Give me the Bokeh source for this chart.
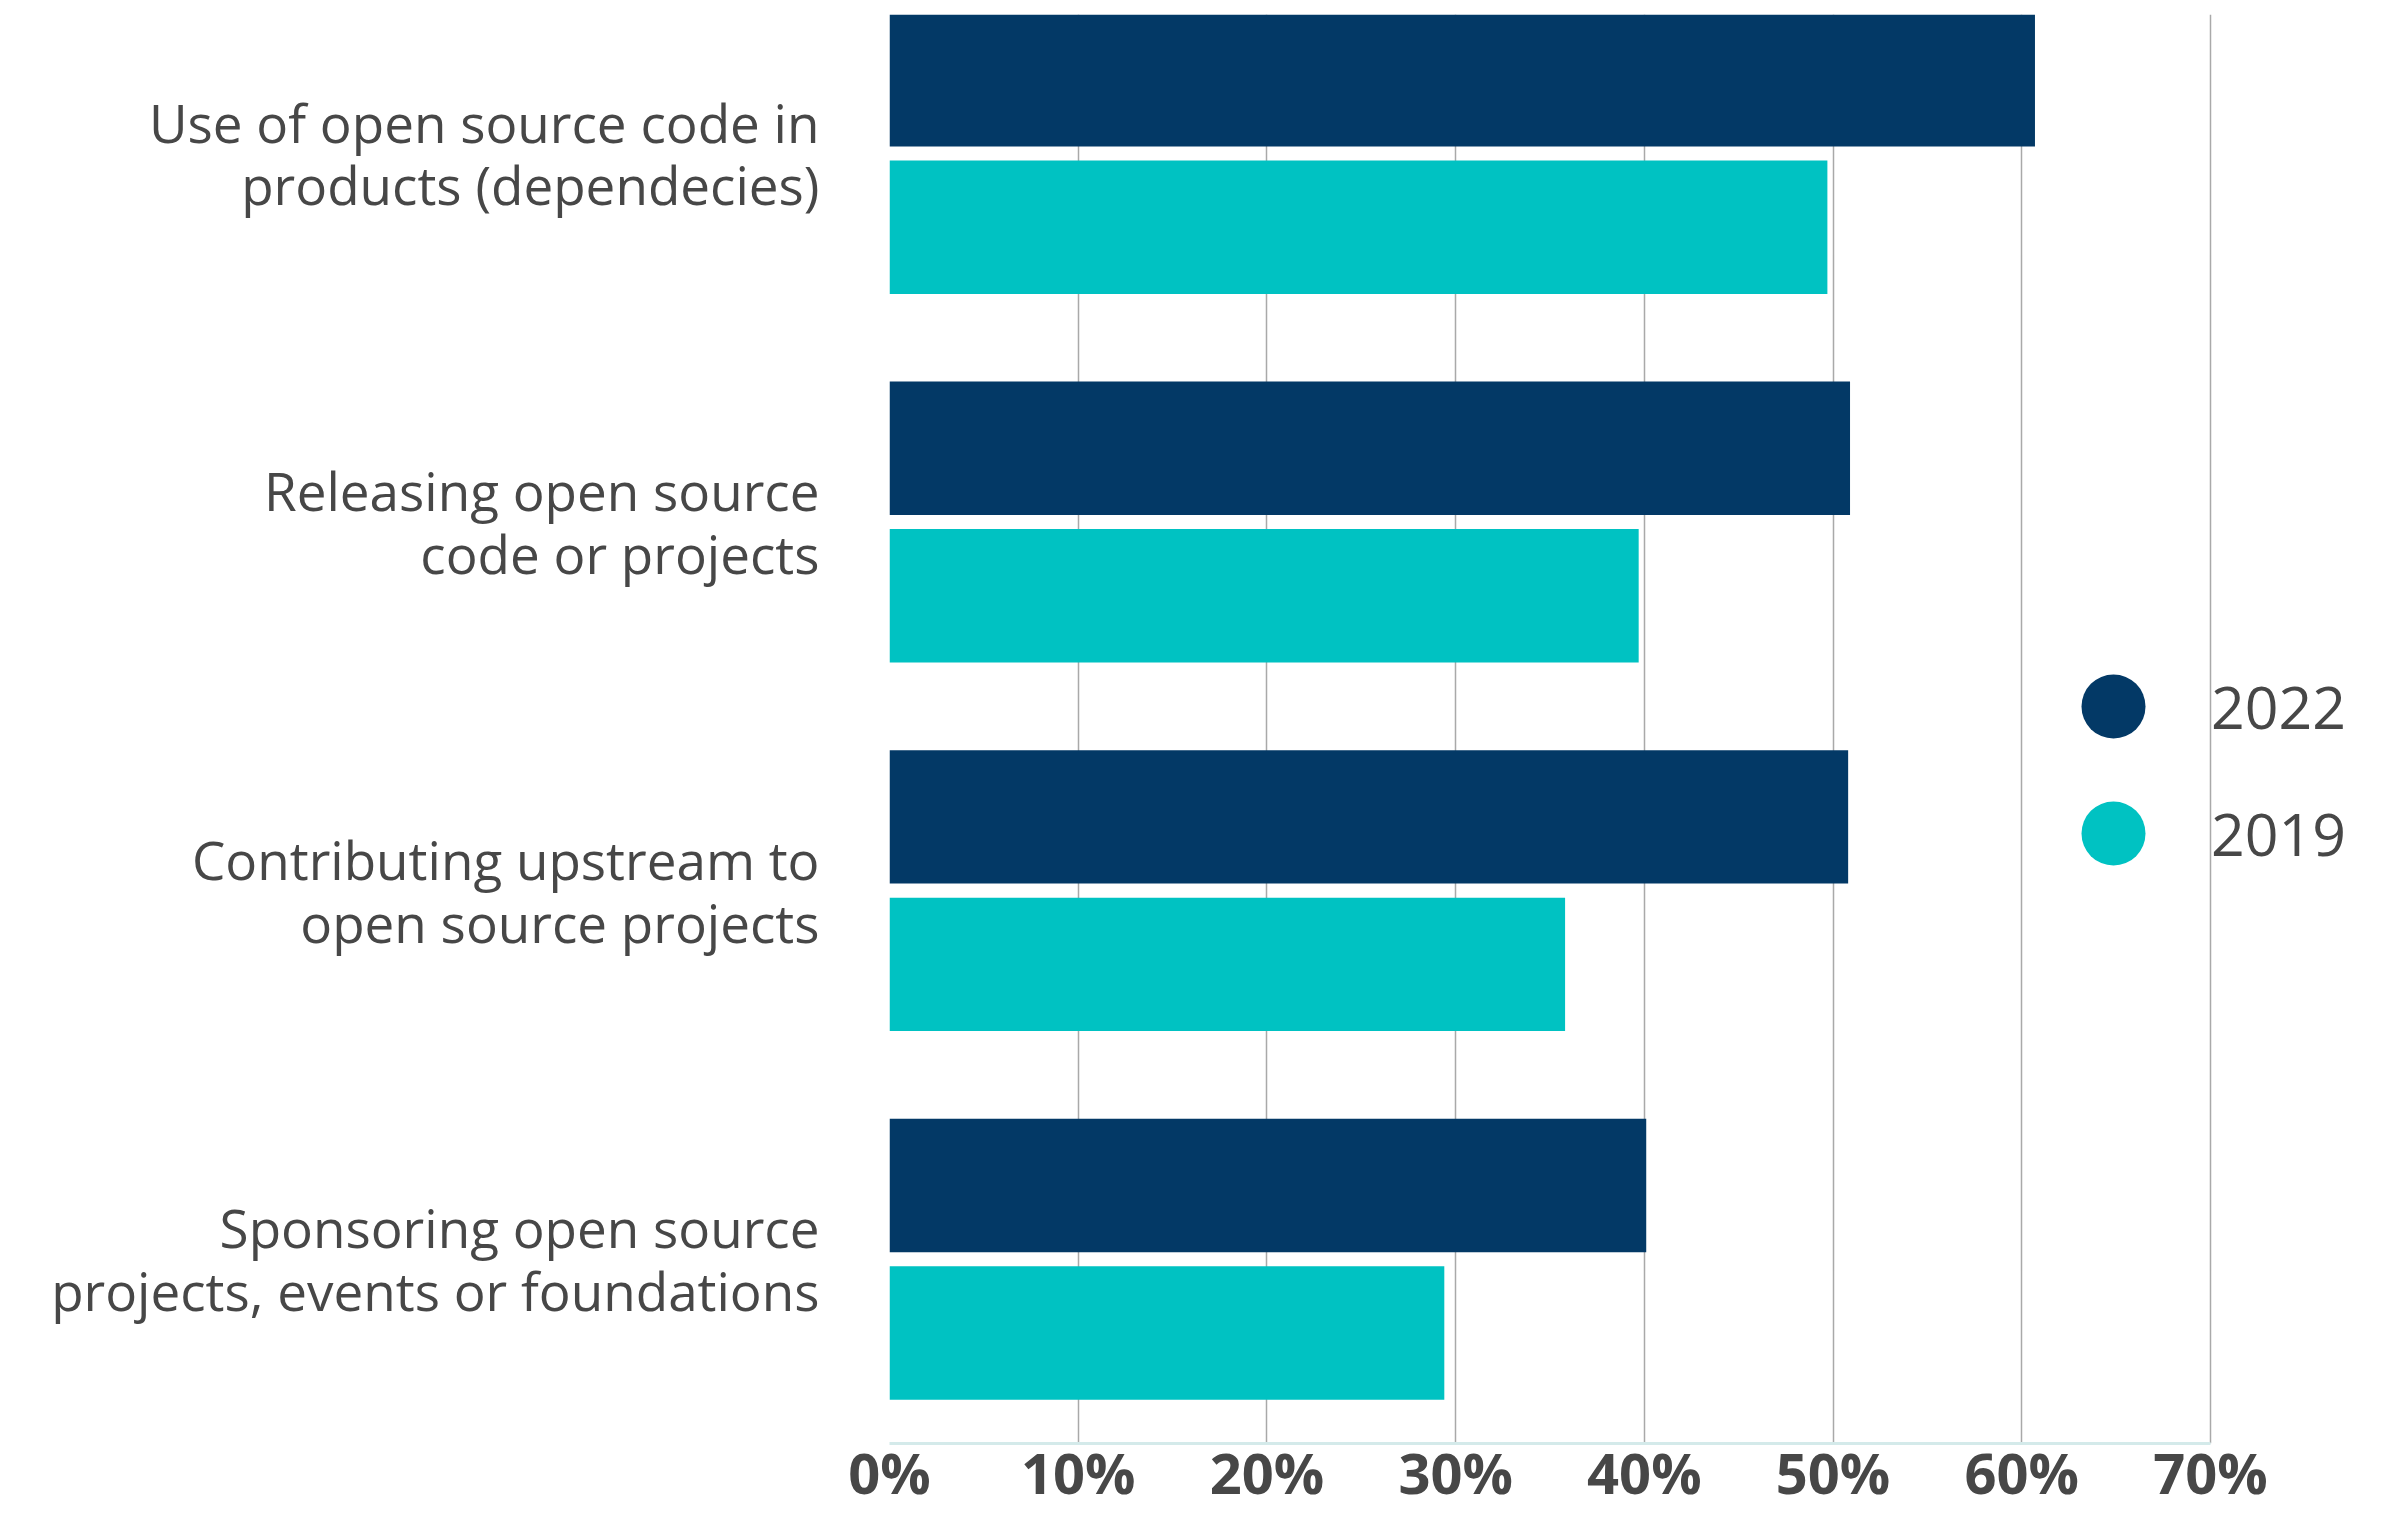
from bokeh.plotting import figure
from bokeh.models import Range1d, FixedTicker, Legend, LegendItem, ColumnDataSource
from bokeh.transform import dodge
from bokeh.embed import file_html
from bokeh.resources import INLINE

# ---- data ----
categories = [
    "Use of open source code in\nproducts (dependecies)",
    "Releasing open source\ncode or projects",
    "Contributing upstream to\nopen source projects",
    "Sponsoring open source\nprojects, events or foundations",
]
values_2022 = [60.7, 50.9, 50.8, 40.1]
values_2019 = [49.7, 39.7, 35.8, 29.4]
series_names = ["2022", "2019"]
x_ticks = [0, 10, 20, 30, 40, 50, 60, 70]
x_tick_labels = ["0%", "10%", "20%", "30%", "40%", "50%", "60%", "70%"]

# ---- styling ----
C2022 = "#033966"
C2019 = "#00C2C2"
TEXT = "#474747"
FONT = "Open Sans"
FRAME_BOTTOM = 1442  # expected frame bottom (px) used for legend placement

n = len(categories)
ypos = [n - 1 - i for i in range(n)]
src = ColumnDataSource(dict(y=ypos, v22=values_2022, v19=values_2019))

p = figure(
    width=2390, height=1512,
    x_range=Range1d(0, 79.54), y_range=Range1d(-0.5, 3.377),
    output_backend="svg", toolbar_location=None,
    min_border_left=889, min_border_right=0, min_border_top=14, min_border_bottom=0,
)
p.outline_line_color = None
p.background_fill_color = "white"

r22 = p.hbar(y=dodge("y", 0.2, range=p.y_range), right="v22", left=0, height=0.362,
             source=src, fill_color=C2022, line_color=None)
r19 = p.hbar(y=dodge("y", -0.2, range=p.y_range), right="v19", left=0, height=0.362,
             source=src, fill_color=C2019, line_color=None)

# x axis
xa = p.xaxis[0]
xa.ticker = FixedTicker(ticks=x_ticks)
xa.major_label_overrides = {t: l for t, l in zip(x_ticks, x_tick_labels)}
xa.major_label_text_font = FONT
xa.major_label_text_font_style = "bold"
xa.major_label_text_font_size = "56px"
xa.major_label_text_color = TEXT
xa.major_label_standoff = -16
xa.major_tick_line_color = None
xa.minor_tick_line_color = None
xa.axis_line_color = "#d4eaea"
xa.axis_line_width = 3
xa.bounds = (x_ticks[0], x_ticks[-1])

# y axis
ya = p.yaxis[0]
ya.ticker = FixedTicker(ticks=ypos)
ya.major_label_overrides = {y: c for y, c in zip(ypos, categories)}
ya.major_label_text_font = FONT
ya.major_label_text_font_size = "53px"
ya.major_label_text_line_height = 0.86
ya.major_label_text_color = TEXT
ya.major_label_standoff = 64
ya.major_tick_line_color = None
ya.minor_tick_line_color = None
ya.axis_line_color = None

# grid
p.ygrid.grid_line_color = None
p.xgrid.ticker = FixedTicker(ticks=x_ticks)
p.xgrid.grid_line_color = "#a9a9a9"
p.xgrid.grid_line_width = 1.5

# legend (invisible marker renderers give the legend its circle glyphs)
m22 = p.scatter(x="v22", y=dodge("y", 0.2, range=p.y_range), source=src, marker="circle",
                fill_color=C2022, line_color=None, visible=False)
m19 = p.scatter(x="v19", y=dodge("y", -0.2, range=p.y_range), source=src, marker="circle",
                fill_color=C2019, line_color=None, visible=False)

common = dict(glyph_width=160, glyph_height=160, padding=0, margin=0, label_standoff=18,
              label_text_font=FONT, label_text_font_size="59px", label_text_color=TEXT,
              background_fill_alpha=0, border_line_alpha=0, inactive_fill_alpha=0)
leg1 = Legend(items=[LegendItem(label=series_names[0], renderers=[m22])],
              location=(1144, FRAME_BOTTOM - 785), **common)
leg2 = Legend(items=[LegendItem(label=series_names[1], renderers=[m19])],
              location=(1144, FRAME_BOTTOM - 912), **common)
p.add_layout(leg1, "center")
p.add_layout(leg2, "center")

open("out.html", "w").write(file_html(p, INLINE))
